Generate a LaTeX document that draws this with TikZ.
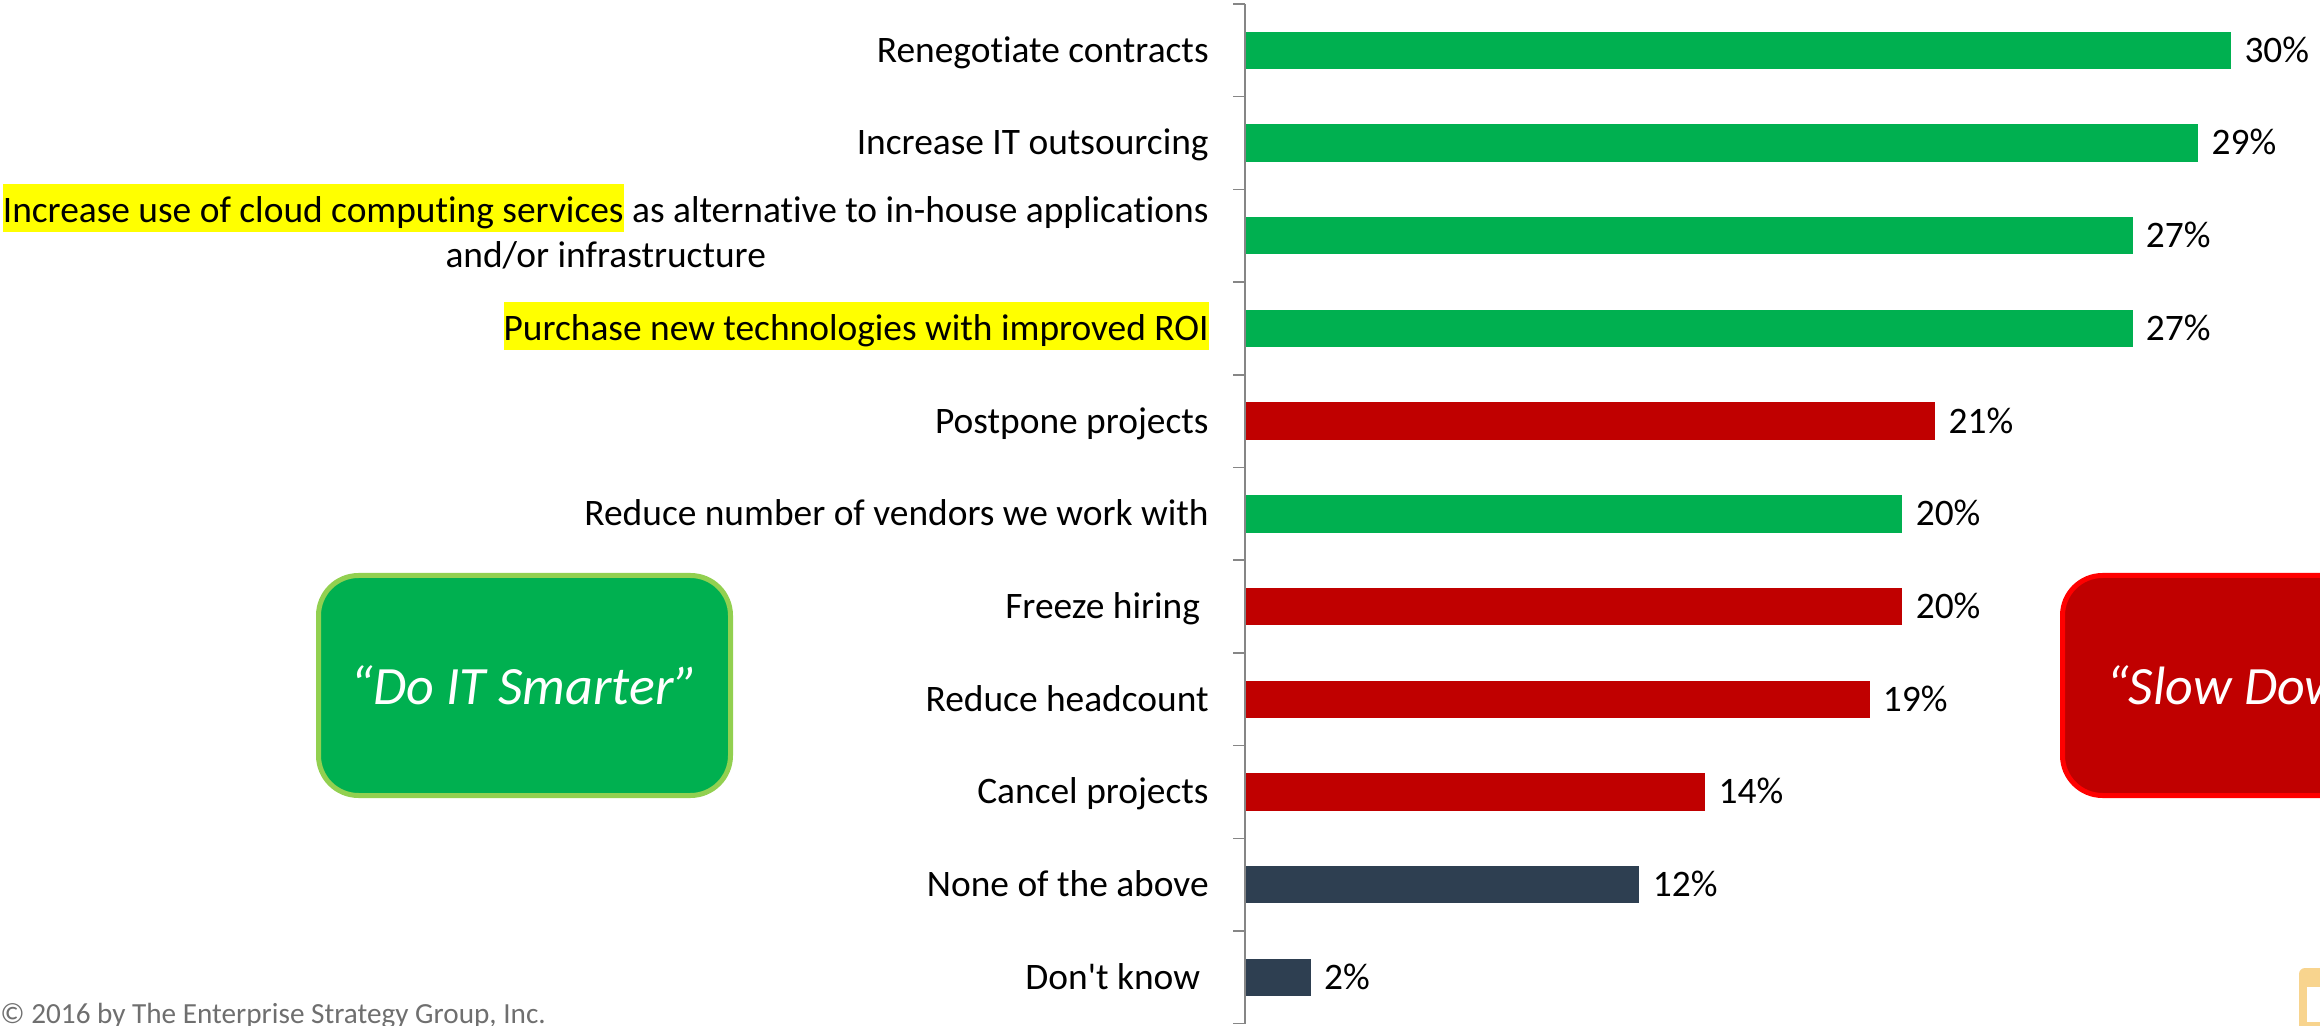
\documentclass[tikz,border=0pt]{standalone}
\usepackage{fontspec}
\setmainfont{Carlito}[Ligatures={TeX,NoCommon}]
\definecolor{bgreen}{HTML}{00B050}
\definecolor{bred}{HTML}{C00000}
\definecolor{bnavy}{HTML}{2E3F51}
\definecolor{lgreen}{HTML}{92D050}
\definecolor{lred}{HTML}{FF0000}
\definecolor{hlyellow}{HTML}{FFFF00}
\definecolor{axisgray}{HTML}{868686}
\definecolor{copygray}{HTML}{6F6F6F}
\definecolor{logotan}{HTML}{F8D48E}
\newcommand\hlmark[1]{{\setlength{\fboxsep}{0pt}\colorbox{hlyellow}{\rule[-4.8pt]{0pt}{24pt}#1}}}
\begin{document}
\begin{tikzpicture}[x=0.5pt,y=-0.5pt,
  lbl/.style={anchor=base east, inner sep=0pt, font=\fontsize{18.7}{22.5}\selectfont},
  val/.style={anchor=base west, inner sep=0pt, font=\fontsize{18.7}{22.5}\selectfont},
  axisline/.style={draw=axisgray, line width=0.75pt},
  callout/.style={rounded corners=20pt, line width=2.5pt, minimum width=206pt, minimum height=110pt,
    inner sep=0pt},
  callouttext/.style={inner sep=0pt, text=white, font=\fontsize{27}{32}\selectfont\itshape}]
\useasboundingbox (0,0) rectangle (2320,1026);
\clip (0,0) rectangle (2320,1026);
% bars and values
\foreach \i/\v/\c in {0/30/bgreen,1/29/bgreen,2/27/bgreen,3/27/bgreen,4/21/bred,5/20/bgreen,6/20/bred,7/19/bred,8/14/bred,9/12/bnavy,10/2/bnavy}{
  \fill[\c] (1245,{4+92.7*(\i+0.5)-18.75}) rectangle ({1245+32.87*\v},{4+92.7*(\i+0.5)+18.75});
  \node[val] (v\i) at ({1245+32.87*\v+13},{4+92.7*(\i+0.5)+11.9}) {\v\%};
}
% axis
\draw[axisline] (1245,4) -- (1245,1024);
\foreach \k in {0,...,11}{
  \draw[axisline] (1233,{4+92.7*\k}) -- (1245,{4+92.7*\k});
}
% category labels
\node[lbl] (c0) at (1209,{4+92.7*0.5+11.9}) {Renegotiate contracts};
\node[lbl] (c1) at (1209,{4+92.7*1.5+11.9}) {Increase IT outsourcing};
\node[lbl] (c2a) at (1209,222.4) {\hlmark{Increase use of cloud computing services} as alternative to in-house applications};
\coordinate (c2y) at (0,267.5);
\node[anchor=base, inner sep=0pt, font=\fontsize{18.7}{22.5}\selectfont] (c2b) at (c2a.center |- c2y) {and/or infrastructure};
\node[lbl] (c3) at (1209,{4+92.7*3.5+11.9}) {\hlmark{Purchase new technologies with improved ROI}};
\node[lbl] (c4) at (1209,{4+92.7*4.5+11.9}) {Postpone projects};
\node[lbl] (c5) at (1209,{4+92.7*5.5+11.9}) {Reduce number of vendors we work with};
\node[lbl] (c6) at (1209,{4+92.7*6.5+11.9}) {Freeze hiring\kern0.23em};
\node[lbl] (c7) at (1209,{4+92.7*7.5+11.9}) {Reduce headcount};
\node[lbl] (c8) at (1209,{4+92.7*8.5+11.9}) {Cancel projects};
\node[lbl] (c9) at (1209,{4+92.7*9.5+11.9}) {None of the above};
\node[lbl] (c10) at (1209,{4+92.7*10.5+11.9}) {Don\textquotesingle t know\kern0.23em};
% callout boxes
\node[callout, draw=lgreen, fill=bgreen] (smart) at (524.5,685.5) {};
\node[callouttext] (smarttxt) at (smart.center) {“Do IT Smarter”};
\node[callout, draw=lred, fill=bred] (slow) at (2268.5,685.5) {};
\node[callouttext, anchor=west] (slowtxt) at (2106,685.5) {“Slow Down”};
% copyright
\node[anchor=base west, inner sep=0pt, text=copygray, font=\fontsize{14.6}{17}\selectfont] (copy) at (0,1023) {© 2016 by The Enterprise Strategy Group, Inc.};
% logo fragment
\fill[logotan, rounded corners=3pt] (2299,968) rectangle (2345,1060);
\fill[white] (2307,987) rectangle (2345,1022);
\end{tikzpicture}
\end{document}
